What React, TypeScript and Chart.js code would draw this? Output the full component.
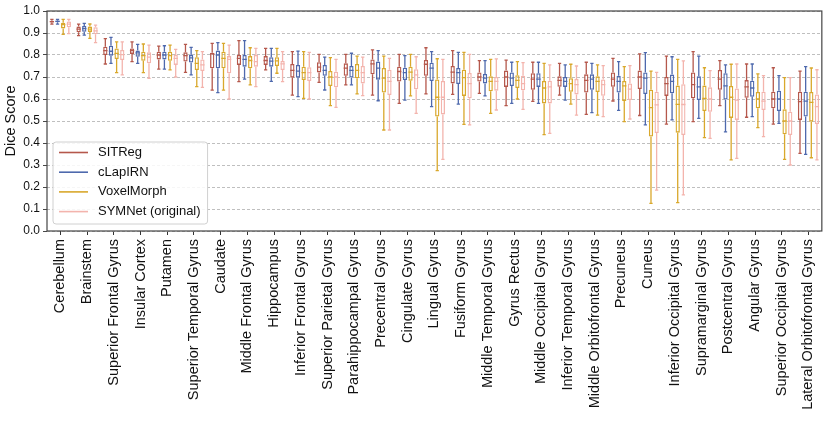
import { useEffect, useRef } from "react"
import { Chart, registerables } from "chart.js"

Chart.register(...registerables)

const regions = [
  "Cerebellum",
  "Brainstem",
  "Superior Frontal Gyrus",
  "Insular Cortex",
  "Putamen",
  "Superior Temporal Gyrus",
  "Caudate",
  "Middle Frontal Gyrus",
  "Hippocampus",
  "Inferior Frontal Gyrus",
  "Superior Parietal Gyrus",
  "Parahippocampal Gyrus",
  "Precentral Gyrus",
  "Cingulate Gyrus",
  "Lingual Gyrus",
  "Fusiform Gyrus",
  "Middle Temporal Gyrus",
  "Gyrus Rectus",
  "Middle Occipital Gyrus",
  "Inferior Temporal Gyrus",
  "Middle Orbitofrontal Gyrus",
  "Precuneus",
  "Cuneus",
  "Inferior Occipital Gyrus",
  "Supramarginal Gyrus",
  "Postcentral Gyrus",
  "Angular Gyrus",
  "Superior Occipital Gyrus",
  "Lateral Orbitofrontal Gyrus",
]

const methods = ["SITReg", "cLapIRN", "VoxelMorph", "SYMNet (original)"]
const colors = ["#b5584c", "#4e69ad", "#d9a82c", "#f3b4ad"]

// per region: [whisker low, q1, median, q3, whisker high]
const sitreg = [
  [0.94, 0.948, 0.952, 0.956, 0.962],
  [0.888, 0.903, 0.918, 0.929, 0.94],
  [0.759, 0.8, 0.82, 0.838, 0.874],
  [0.77, 0.805, 0.82, 0.83, 0.86],
  [0.736, 0.78, 0.8, 0.815, 0.84],
  [0.721, 0.77, 0.797, 0.812, 0.848],
  [0.64, 0.74, 0.805, 0.81, 0.853],
  [0.679, 0.755, 0.785, 0.8, 0.865],
  [0.732, 0.755, 0.775, 0.795, 0.83],
  [0.618, 0.697, 0.73, 0.759, 0.815],
  [0.676, 0.721, 0.745, 0.767, 0.803],
  [0.664, 0.706, 0.74, 0.762, 0.803],
  [0.618, 0.712, 0.76, 0.78, 0.823],
  [0.58, 0.679, 0.725, 0.747, 0.803],
  [0.623, 0.706, 0.758, 0.777, 0.833],
  [0.621, 0.671, 0.722, 0.75, 0.82],
  [0.626, 0.679, 0.7, 0.721, 0.774],
  [0.57, 0.655, 0.7, 0.729, 0.777],
  [0.589, 0.642, 0.69, 0.717, 0.767],
  [0.618, 0.656, 0.685, 0.703, 0.762],
  [0.53, 0.629, 0.685, 0.712, 0.767],
  [0.591, 0.656, 0.69, 0.721, 0.785],
  [0.525, 0.645, 0.7, 0.729, 0.805],
  [0.486, 0.614, 0.67, 0.7, 0.795],
  [0.497, 0.603, 0.665, 0.721, 0.815],
  [0.57, 0.642, 0.69, 0.732, 0.774],
  [0.517, 0.606, 0.655, 0.686, 0.759],
  [0.486, 0.558, 0.6, 0.633, 0.742],
  [0.353, 0.505, 0.588, 0.633, 0.727],
]

const clapirn = [
  [0.94, 0.949, 0.953, 0.957, 0.962],
  [0.89, 0.906, 0.92, 0.932, 0.944],
  [0.762, 0.797, 0.817, 0.842, 0.88],
  [0.762, 0.792, 0.81, 0.82, 0.848],
  [0.736, 0.78, 0.8, 0.815, 0.842],
  [0.71, 0.766, 0.787, 0.8, 0.835],
  [0.629, 0.74, 0.8, 0.82, 0.856],
  [0.69, 0.747, 0.78, 0.8, 0.865],
  [0.68, 0.747, 0.772, 0.79, 0.83],
  [0.611, 0.697, 0.727, 0.755, 0.818],
  [0.641, 0.706, 0.73, 0.755, 0.79],
  [0.664, 0.698, 0.73, 0.75, 0.808],
  [0.592, 0.688, 0.74, 0.77, 0.82],
  [0.595, 0.686, 0.72, 0.742, 0.797],
  [0.565, 0.682, 0.74, 0.765, 0.815],
  [0.577, 0.668, 0.72, 0.741, 0.812],
  [0.614, 0.671, 0.695, 0.714, 0.774],
  [0.58, 0.659, 0.695, 0.721, 0.767],
  [0.58, 0.655, 0.69, 0.717, 0.767],
  [0.595, 0.655, 0.68, 0.7, 0.755],
  [0.538, 0.642, 0.69, 0.712, 0.762],
  [0.548, 0.629, 0.68, 0.706, 0.77],
  [0.482, 0.623, 0.695, 0.721, 0.811],
  [0.505, 0.626, 0.68, 0.711, 0.792],
  [0.512, 0.595, 0.655, 0.703, 0.795],
  [0.451, 0.598, 0.66, 0.717, 0.755],
  [0.52, 0.61, 0.65, 0.683, 0.759],
  [0.489, 0.545, 0.6, 0.638, 0.706],
  [0.348, 0.52, 0.59, 0.633, 0.747],
]

const voxelmorph = [
  [0.894, 0.921, 0.938, 0.947, 0.962],
  [0.876, 0.905, 0.918, 0.929, 0.941],
  [0.72, 0.782, 0.807, 0.83, 0.86],
  [0.72, 0.774, 0.797, 0.815, 0.85],
  [0.732, 0.774, 0.797, 0.815, 0.845],
  [0.656, 0.732, 0.762, 0.79, 0.82],
  [0.64, 0.74, 0.785, 0.815, 0.853],
  [0.664, 0.74, 0.775, 0.795, 0.833],
  [0.717, 0.75, 0.773, 0.79, 0.83],
  [0.603, 0.686, 0.72, 0.747, 0.815],
  [0.57, 0.659, 0.7, 0.727, 0.788],
  [0.623, 0.694, 0.73, 0.759, 0.795],
  [0.459, 0.629, 0.695, 0.741, 0.795],
  [0.614, 0.683, 0.722, 0.747, 0.803],
  [0.274, 0.52, 0.608, 0.689, 0.783],
  [0.485, 0.614, 0.697, 0.733, 0.812],
  [0.535, 0.635, 0.68, 0.703, 0.78],
  [0.6, 0.65, 0.685, 0.708, 0.77],
  [0.438, 0.58, 0.65, 0.682, 0.762],
  [0.577, 0.633, 0.67, 0.694, 0.758],
  [0.527, 0.632, 0.68, 0.703, 0.755],
  [0.497, 0.591, 0.66, 0.682, 0.747],
  [0.126, 0.429, 0.561, 0.642, 0.727],
  [0.129, 0.447, 0.576, 0.661, 0.78],
  [0.424, 0.545, 0.603, 0.661, 0.742],
  [0.323, 0.514, 0.608, 0.659, 0.758],
  [0.47, 0.558, 0.6, 0.632, 0.714],
  [0.326, 0.44, 0.5, 0.553, 0.697],
  [0.333, 0.497, 0.585, 0.632, 0.741],
]

const symnet = [
  [0.897, 0.926, 0.94, 0.952, 0.962],
  [0.856, 0.894, 0.91, 0.926, 0.936],
  [0.71, 0.777, 0.802, 0.823, 0.86],
  [0.694, 0.762, 0.79, 0.812, 0.845],
  [0.7, 0.755, 0.785, 0.8, 0.826],
  [0.653, 0.727, 0.755, 0.78, 0.815],
  [0.6, 0.717, 0.78, 0.795, 0.845],
  [0.656, 0.747, 0.77, 0.8, 0.83],
  [0.679, 0.732, 0.76, 0.773, 0.815],
  [0.6, 0.682, 0.72, 0.744, 0.812],
  [0.562, 0.653, 0.7, 0.724, 0.78],
  [0.615, 0.671, 0.72, 0.75, 0.79],
  [0.459, 0.618, 0.68, 0.733, 0.785],
  [0.535, 0.644, 0.71, 0.735, 0.792],
  [0.326, 0.53, 0.608, 0.682, 0.78],
  [0.482, 0.603, 0.67, 0.718, 0.803],
  [0.55, 0.638, 0.68, 0.7, 0.782],
  [0.553, 0.64, 0.67, 0.706, 0.765],
  [0.444, 0.58, 0.655, 0.683, 0.755],
  [0.527, 0.621, 0.665, 0.691, 0.75],
  [0.52, 0.615, 0.665, 0.689, 0.752],
  [0.509, 0.595, 0.645, 0.671, 0.752],
  [0.186, 0.445, 0.573, 0.633, 0.721],
  [0.164, 0.436, 0.575, 0.667, 0.773],
  [0.421, 0.542, 0.6, 0.653, 0.729],
  [0.33, 0.505, 0.595, 0.648, 0.759],
  [0.429, 0.55, 0.59, 0.633, 0.706],
  [0.3, 0.436, 0.5, 0.542, 0.697],
  [0.323, 0.486, 0.565, 0.621, 0.733],
]

const stats = [sitreg, clapirn, voxelmorph, symnet]

const FONT = "'Liberation Sans', Arial, sans-serif"

// whiskers, caps and medians on top of the floating bars (the boxes)
const whiskerPlugin = {
  id: "whiskers",
  afterDatasetsDraw(chart: any) {
    const { ctx } = chart
    const y = chart.scales.y
    stats.forEach((rows, d) => {
      const meta = chart.getDatasetMeta(d)
      ctx.save()
      ctx.strokeStyle = colors[d]
      ctx.lineWidth = 1.3
      meta.data.forEach((bar: any, i: number) => {
        const [lo, q1, med, q3, hi] = rows[i]
        const { x, width } = bar.getProps(["x", "width"], true)
        const half = width / 2
        const cap = width * 0.38
        const yLo = y.getPixelForValue(lo)
        const yHi = y.getPixelForValue(hi)
        ctx.beginPath()
        ctx.moveTo(x, y.getPixelForValue(q1))
        ctx.lineTo(x, yLo)
        ctx.moveTo(x, y.getPixelForValue(q3))
        ctx.lineTo(x, yHi)
        ctx.moveTo(x - cap, yLo)
        ctx.lineTo(x + cap, yLo)
        ctx.moveTo(x - cap, yHi)
        ctx.lineTo(x + cap, yHi)
        const yMed = y.getPixelForValue(med)
        ctx.moveTo(x - half, yMed)
        ctx.lineTo(x + half, yMed)
        ctx.stroke()
      })
      ctx.restore()
    })
  },
}

// axes frame + legend box in the lower-left corner of the plot
const framePlugin = {
  id: "frameLegend",
  afterDraw(chart: any) {
    const { ctx, chartArea: a } = chart
    ctx.save()
    ctx.strokeStyle = "#444"
    ctx.lineWidth = 1.2
    ctx.strokeRect(a.left, a.top, a.right - a.left, a.bottom - a.top)

    ctx.font = `13px ${FONT}`
    const textW = Math.max(...methods.map((m) => ctx.measureText(m).width))
    const bx = a.left + 6
    const bh = 82
    const by = a.bottom - 7 - bh
    const bw = 45 + textW + 7
    ctx.fillStyle = "rgba(255,255,255,0.85)"
    ctx.strokeStyle = "#d0d0d0"
    ctx.lineWidth = 1
    ctx.beginPath()
    ctx.roundRect(bx, by, bw, bh, 3)
    ctx.fill()
    ctx.stroke()

    ctx.textBaseline = "middle"
    methods.forEach((m, i) => {
      const ry = by + 10.5 + i * 19.7
      ctx.strokeStyle = colors[i]
      ctx.lineWidth = 1.6
      ctx.beginPath()
      ctx.moveTo(bx + 6, ry)
      ctx.lineTo(bx + 35, ry)
      ctx.stroke()
      ctx.fillStyle = "#111"
      ctx.fillText(m, bx + 45, ry)
    })
    ctx.restore()
  },
}

export default function App() {
  const chartRef = useRef<HTMLCanvasElement>(null)
  const chartInstance = useRef<Chart | null>(null)

  useEffect(() => {
    if (!chartRef.current) return
    if (chartInstance.current) {
      chartInstance.current.destroy()
    }
    const ctx = chartRef.current.getContext("2d")
    if (!ctx) return

    chartInstance.current = new Chart(ctx, {
      type: "bar",
      data: {
        labels: regions,
        datasets: methods.map((m, d) => ({
          label: m,
          data: stats[d].map((s) => [s[1], s[3]]),
          borderColor: colors[d],
          backgroundColor: "rgba(255,255,255,0)",
          borderWidth: 1.3,
          borderSkipped: false,
          categoryPercentage: 0.845,
          barPercentage: 0.76,
        })),
      },
      options: {
        responsive: false,
        animation: false,
        layout: { padding: { top: 11, right: 7, left: 0, bottom: 0 } },
        plugins: {
          legend: { display: false },
          tooltip: { enabled: false },
        },
        scales: {
          x: {
            afterFit: (scale: any) => {
              scale.height = 190
            },
            border: { display: false },
            grid: {
              offset: false,
              drawOnChartArea: false,
              drawTicks: true,
              tickLength: 4,
              tickColor: "#333",
            },
            ticks: {
              autoSkip: false,
              minRotation: 90,
              maxRotation: 90,
              padding: 4,
              color: "#111",
              font: { family: FONT, size: 14.5 },
            },
          },
          y: {
            min: 0,
            max: 1,
            afterFit: (scale: any) => {
              scale.width = 47
            },
            border: { display: false, dash: [3, 2] },
            grid: {
              color: "#b8b8b8",
              lineWidth: 0.9,
              tickLength: 4,
              tickColor: "#333",
            },
            ticks: {
              stepSize: 0.1,
              padding: 3,
              color: "#111",
              font: { family: FONT, size: 12 },
              callback: (v: any) => Number(v).toFixed(1),
            },
            title: {
              display: true,
              text: "Dice Score",
              color: "#111",
              font: { family: FONT, size: 14.5 },
              padding: { top: 2, bottom: 2 },
            },
          },
        },
      },
      plugins: [whiskerPlugin, framePlugin],
    } as any)

    return () => {
      if (chartInstance.current) {
        chartInstance.current.destroy()
        chartInstance.current = null
      }
    }
  }, [])

  return (
    <div style={{ position: "fixed", top: 0, left: 0, width: 830, height: 421, background: "#fff" }}>
      <canvas ref={chartRef} width={830} height={421} />
    </div>
  )
}
